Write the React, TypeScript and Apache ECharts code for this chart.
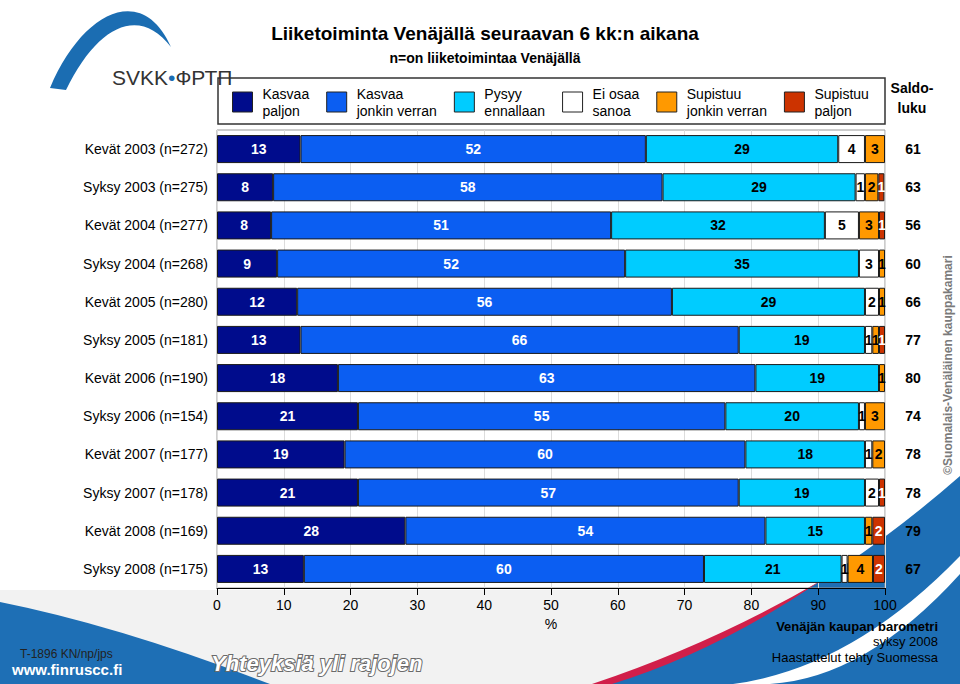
import React, { useEffect, useRef } from "react";
import * as echarts from "echarts";

const categories = [
  "Kevät 2003 (n=272)",
  "Syksy 2003 (n=275)",
  "Kevät 2004 (n=277)",
  "Syksy 2004 (n=268)",
  "Kevät 2005 (n=280)",
  "Syksy 2005 (n=181)",
  "Kevät 2006 (n=190)",
  "Syksy 2006 (n=154)",
  "Kevät 2007 (n=177)",
  "Syksy 2007 (n=178)",
  "Kevät 2008 (n=169)",
  "Syksy 2008 (n=175)",
];
const saldo = [61, 63, 56, 60, 66, 77, 80, 74, 78, 78, 79, 67];

const seriesNames = [
  "Kasvaa paljon",
  "Kasvaa jonkin verran",
  "Pysyy ennallaan",
  "Ei osaa sanoa",
  "Supistuu jonkin verran",
  "Supistuu paljon",
];
const legendLabels = [
  "Kasvaa\npaljon",
  "Kasvaa\njonkin verran",
  "Pysyy\nennallaan",
  "Ei osaa\nsanoa",
  "Supistuu\njonkin verran",
  "Supistuu\npaljon",
];

// values in % (labels show rounded values)
const kasvaaPaljon = [12.5, 8.4, 8.1, 9.0, 12.0, 12.5, 18.1, 21.1, 19.1, 21.1, 28.2, 13.0];
const kasvaaJonkin = [51.7, 58.3, 50.9, 52.1, 56.1, 65.6, 62.5, 55.0, 60.0, 57.0, 53.9, 59.9];
const pysyy = [28.8, 28.9, 32.0, 35.0, 28.9, 18.9, 18.5, 20.0, 17.9, 18.9, 14.9, 20.6];
const eiOsaa = [4.0, 1.4, 5.1, 3.0, 2.1, 1.1, 0, 0.9, 1.1, 2.1, 0, 0.9];
const supistuuJonkin = [3.0, 2.0, 3.0, 0.9, 0.9, 1.0, 0.9, 3.0, 1.9, 0, 1.1, 3.8];
const supistuuPaljon = [0, 0.9, 0.9, 0, 0, 0.9, 0, 0, 0, 0.9, 1.9, 1.8];

const seriesValues = [kasvaaPaljon, kasvaaJonkin, pysyy, eiOsaa, supistuuJonkin, supistuuPaljon];
const seriesColors = ["#000c8c", "#0b5ef2", "#00ccff", "#ffffff", "#ff9900", "#cc3300"];
const labelColors = ["#ffffff", "#ffffff", "#000000", "#000000", "#000000", "#ffffff"];

const NARROW = "'Liberation Sans Narrow', 'Arial Narrow', 'Liberation Sans', Arial, sans-serif";
const SANS = "'Liberation Sans', Arial, sans-serif";

echarts.graphic.registerShape(
  "svkkSwoosh",
  echarts.graphic.extendPath("M 50 88 C 82 12 142 -18 171 47 C 140 6 98 24 66 90 Z", {})
);
echarts.graphic.registerShape(
  "blueLeft",
  echarts.graphic.extendPath("M 0 602 Q 120 626 270 684 L 0 684 Z", {})
);
echarts.graphic.registerShape(
  "blueRight",
  echarts.graphic.extendPath("M 600 684 Q 790 625 960 476 L 960 684 Z", {})
);
echarts.graphic.registerShape(
  "redStripe",
  echarts.graphic.extendPath("M 592 684 Q 712 644 822 580 Q 716 652 612 684 Z", {})
);
echarts.graphic.registerShape(
  "whiteStripe",
  echarts.graphic.extendPath("M 733 684 Q 852 668 960 556 L 960 574 Q 866 678 770 684 Z", {})
);

export default function App() {
  const ref = useRef<HTMLDivElement>(null);

  useEffect(() => {
    if (!ref.current) return;
    const chart = echarts.init(ref.current, undefined, { renderer: "svg" });

    const series = seriesNames.map((name, i) => ({
      name,
      type: "bar",
      stack: "total",
      barWidth: 28,
      data: seriesValues[i].map((v) => (v === 0 ? "-" : v)),
      itemStyle: { color: seriesColors[i], borderColor: "#1a1a1a", borderWidth: 1 },
      label: {
        show: true,
        position: "inside",
        color: labelColors[i],
        fontFamily: NARROW,
        fontWeight: "bold",
        fontSize: 14,
        formatter: (p: any) => (typeof p.value === "number" && p.value > 0 ? String(Math.round(p.value)) : ""),
      },
      emphasis: { disabled: true },
    }));

    const option: any = {
      animation: false,
      backgroundColor: "#ffffff",
      title: {
        text: "Liiketoiminta Venäjällä seuraavan 6 kk:n aikana",
        subtext: "n=on liiketoimintaa Venäjällä",
        left: 480,
        textAlign: "center",
        top: 19,
        itemGap: 8,
        textStyle: { fontFamily: SANS, fontSize: 19, fontWeight: "bold", color: "#000" },
        subtextStyle: { fontFamily: SANS, fontSize: 14, fontWeight: "bold", color: "#000" },
      },
      legend: {
        data: seriesNames,
        left: 232,
        top: 85,
        padding: 0,
        itemWidth: 20,
        itemHeight: 20,
        itemGap: 17,
        selectedMode: false,
        icon: "rect",
        itemStyle: { borderColor: "#222", borderWidth: 1 },
        formatter: (name: string) => legendLabels[seriesNames.indexOf(name)],
        textStyle: { fontFamily: SANS, fontSize: 14, lineHeight: 17, color: "#000", padding: [0, 0, 0, 5] },
      },
      grid: {
        left: 217,
        right: 75,
        top: 130,
        bottom: 96,
        show: true,
        borderColor: "#9a9a9a",
        borderWidth: 1,
        backgroundColor: "transparent",
      },
      xAxis: {
        type: "value",
        min: 0,
        max: 100,
        interval: 10,
        name: "%",
        nameLocation: "middle",
        nameGap: 29,
        nameTextStyle: { fontFamily: NARROW, fontSize: 14, color: "#000" },
        axisLine: { show: true, lineStyle: { color: "#000", width: 1 } },
        axisTick: { show: true, length: 7, lineStyle: { color: "#000" } },
        axisLabel: { fontFamily: NARROW, fontSize: 14, color: "#000", margin: 10 },
        splitLine: { show: true, lineStyle: { color: "#dcdcdc", width: 1 } },
      },
      yAxis: [
        {
          type: "category",
          data: categories,
          inverse: true,
          axisLine: { show: false },
          axisTick: { show: false },
          axisLabel: { fontFamily: SANS, fontSize: 14, color: "#000", margin: 9 },
        },
        {
          type: "category",
          data: saldo.map(String),
          inverse: true,
          position: "right",
          axisLine: { show: false },
          axisTick: { show: false },
          axisLabel: {
            fontFamily: SANS,
            fontSize: 14,
            fontWeight: "bold",
            color: "#000",
            margin: 28,
            align: "center",
          },
        },
      ],
      series,
      graphic: [
        { type: "rect", z: -20, shape: { x: 0, y: 590, width: 960, height: 94 }, style: { fill: "#f2f2f2" } },
        { type: "blueLeft", z: -15, style: { fill: "#1e6fb5" } },
        { type: "blueRight", z: -15, style: { fill: "#1e6fb5" } },
        { type: "redStripe", z: -14, style: { fill: "#d11f4a" } },
        { type: "whiteStripe", z: -14, style: { fill: "#ffffff" } },
        { type: "svkkSwoosh", z: 1, style: { fill: "#1b6db2" } },
        {
          type: "text",
          z: 1,
          x: 112,
          y: 77,
          style: {
            text: "{a|SVKK}{b|•}{a|ФРТП}",
            verticalAlign: "middle",
            rich: {
              a: { fontFamily: SANS, fontSize: 21, fill: "#333", color: "#333" },
              b: { fontFamily: SANS, fontSize: 21, fill: "#1b6db2", color: "#1b6db2" },
            },
          },
        },
        {
          type: "rect",
          z: -5,
          shape: { x: 218, y: 78, width: 667, height: 46 },
          style: { fill: "#ffffff", stroke: "#333", lineWidth: 1.5 },
        },
        {
          type: "text",
          x: 912,
          y: 98,
          style: {
            text: "Saldo-\nluku",
            align: "center",
            verticalAlign: "middle",
            lineHeight: 20,
            font: "bold 14px " + SANS,
            fill: "#000",
          },
        },
        {
          type: "text",
          x: 948,
          y: 365,
          rotation: Math.PI / 2,
          style: {
            text: "©Suomalais-Venäläinen kauppakamari",
            align: "center",
            verticalAlign: "middle",
            font: "bold 12px " + SANS,
            fill: "#7a7a7a",
          },
        },
        {
          type: "text",
          x: 938,
          y: 626,
          style: { text: "Venäjän kaupan barometri", align: "right", verticalAlign: "middle", font: "bold 13px " + NARROW, fill: "#000" },
        },
        {
          type: "text",
          x: 938,
          y: 641,
          style: { text: "syksy 2008", align: "right", verticalAlign: "middle", font: "13px " + NARROW, fill: "#000" },
        },
        {
          type: "text",
          x: 938,
          y: 657,
          style: { text: "Haastattelut tehty Suomessa", align: "right", verticalAlign: "middle", font: "13px " + NARROW, fill: "#000" },
        },
        {
          type: "text",
          x: 20,
          y: 654,
          style: { text: "T-1896 KN/np/jps", align: "left", verticalAlign: "middle", font: "12px " + NARROW, fill: "#222" },
        },
        {
          type: "text",
          x: 12,
          y: 669,
          style: { text: "www.finruscc.fi", align: "left", verticalAlign: "middle", font: "bold 15px " + NARROW, fill: "#ffffff" },
        },
        {
          type: "text",
          x: 211,
          y: 663,
          style: {
            text: "Yhteyksiä yli rajojen",
            align: "left",
            verticalAlign: "middle",
            font: "italic bold 22px " + SANS,
            fill: "#ffffff",
            stroke: "#6a6a6a",
            lineWidth: 2,
          },
        },
      ],
    };

    chart.setOption(option);
    return () => chart.dispose();
  }, []);

  return (
    <div
      ref={ref}
      style={{ position: "fixed", left: 0, top: 0, width: 960, height: 684 }}
    />
  );
}
